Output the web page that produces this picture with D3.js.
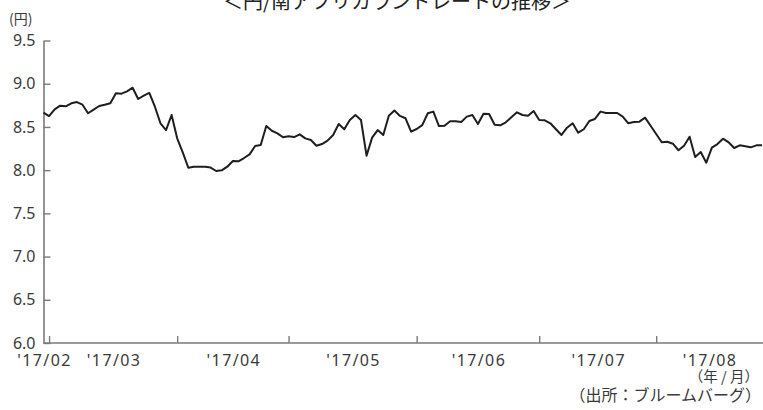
<!DOCTYPE html>
<html><head><meta charset="utf-8">
<script src="https://cdn.jsdelivr.net/npm/d3@7"></script>
<style>
html,body{margin:0;padding:0;background:#fff;}
svg{display:block;font-family:"Noto Sans CJK JP","Noto Sans",sans-serif;}
</style></head>
<body><svg id="c" width="763" height="410"></svg>
<script>
const title = "＜円/南アフリカランドレートの推移＞";
const yUnit = "(円)";
const xUnit = "（年 / 月）";
const source = "（出所：ブルームバーグ）";
const yTicks = [6.0, 6.5, 7.0, 7.5, 8.0, 8.5, 9.0, 9.5];
const monthLabels = ["'17/02","'17/03","'17/04","'17/05","'17/06","'17/07","'17/08"];
const monthStartIdx = [1, 24, 44, 67, 89, 110];
const rate = [
 8.665,8.626,8.704,8.746,8.739,8.773,8.788,8.757,8.658,8.700,
 8.742,8.757,8.773,8.889,8.885,8.912,8.954,8.823,8.862,8.893,
 8.734,8.542,8.464,8.638,8.368,8.206,8.028,8.040,8.040,8.040,
 8.030,7.990,7.998,8.040,8.106,8.102,8.140,8.183,8.279,8.290,
 8.511,8.456,8.426,8.380,8.391,8.383,8.414,8.368,8.349,8.283,
 8.302,8.341,8.407,8.534,8.473,8.580,8.638,8.580,8.167,8.376,
 8.464,8.407,8.630,8.689,8.627,8.600,8.445,8.476,8.520,8.658,
 8.677,8.510,8.514,8.565,8.565,8.557,8.619,8.638,8.534,8.653,
 8.650,8.526,8.519,8.554,8.611,8.669,8.638,8.630,8.684,8.580,
 8.577,8.542,8.473,8.407,8.491,8.542,8.433,8.473,8.569,8.592,
 8.677,8.661,8.661,8.661,8.619,8.542,8.557,8.561,8.607,8.514,
 8.418,8.322,8.329,8.306,8.230,8.283,8.387,8.152,8.210,8.086,
 8.260,8.302,8.364,8.322,8.256,8.287,8.276,8.264,8.287,8.287
];

const svg = d3.select("#c");
const mLeft = 43.5, mRight = 762, mTop = 40.5, mBottom = 343;
const x = d3.scaleLinear().domain([0, rate.length - 1]).range([mLeft, mRight]);
const y = d3.scaleLinear().domain([6, 9.5]).range([mBottom, mTop]);
const axisColor = "#7a7a7a", textColor = "#3a3a3a";

svg.append("text").attr("x", 397).attr("y", 9).attr("text-anchor", "middle")
  .attr("font-size", 20).attr("fill", "#222").text(title);
svg.append("text").attr("x", 9).attr("y", 24).attr("font-size", 14).attr("fill", textColor).text(yUnit);

const gy = svg.append("g").attr("transform", `translate(${mLeft},0)`)
  .call(d3.axisLeft(y).tickValues(yTicks).tickFormat(d3.format(".1f")).tickSize(-7).tickSizeOuter(0).tickPadding(8));
gy.select(".domain").attr("stroke", axisColor).attr("stroke-width", 1.6);
gy.selectAll(".tick line").attr("stroke", axisColor).attr("stroke-width", 1.4);
gy.selectAll(".tick text").attr("font-size", 16).attr("fill", textColor).attr("font-family", "'Noto Sans', sans-serif");

const gx = svg.append("g").attr("transform", `translate(0,${mBottom})`)
  .call(d3.axisBottom(x).tickValues(monthStartIdx).tickFormat("").tickSize(-7).tickSizeOuter(0));
gx.select(".domain").attr("stroke", axisColor).attr("stroke-width", 1.6)
  .attr("d", `M${mLeft},0H763`);
gx.selectAll(".tick line").attr("stroke", axisColor).attr("stroke-width", 1.4);

const labelPos = monthLabels.map((m, i) => {
  if (i === 0) return 0;
  const a = monthStartIdx[i - 1];
  const b = i < monthStartIdx.length ? monthStartIdx[i] : rate.length - 1;
  return (a + b) / 2;
});
svg.append("g").selectAll("text").data(monthLabels).join("text")
  .attr("x", (d, i) => x(labelPos[i]) + 1)
  .attr("y", 365.5)
  .attr("text-anchor", "middle")
  .attr("font-size", 16)
  .attr("letter-spacing", 1.4)
  .attr("fill", textColor)
  .attr("font-family", "'Noto Sans', sans-serif")
  .text(d => d);

svg.append("text").attr("x", 759).attr("y", 381.5).attr("text-anchor", "end")
  .attr("font-size", 14.5).attr("fill", textColor).text(xUnit);
svg.append("text").attr("x", 761).attr("y", 401).attr("text-anchor", "end")
  .attr("font-size", 16).attr("fill", textColor).text(source);

svg.append("path").datum(rate)
  .attr("fill", "none").attr("stroke", "#1e1e1e").attr("stroke-width", 2)
  .attr("stroke-linejoin", "round")
  .attr("d", d3.line().x((d, i) => x(i)).y(d => y(d)));
</script></body></html>
